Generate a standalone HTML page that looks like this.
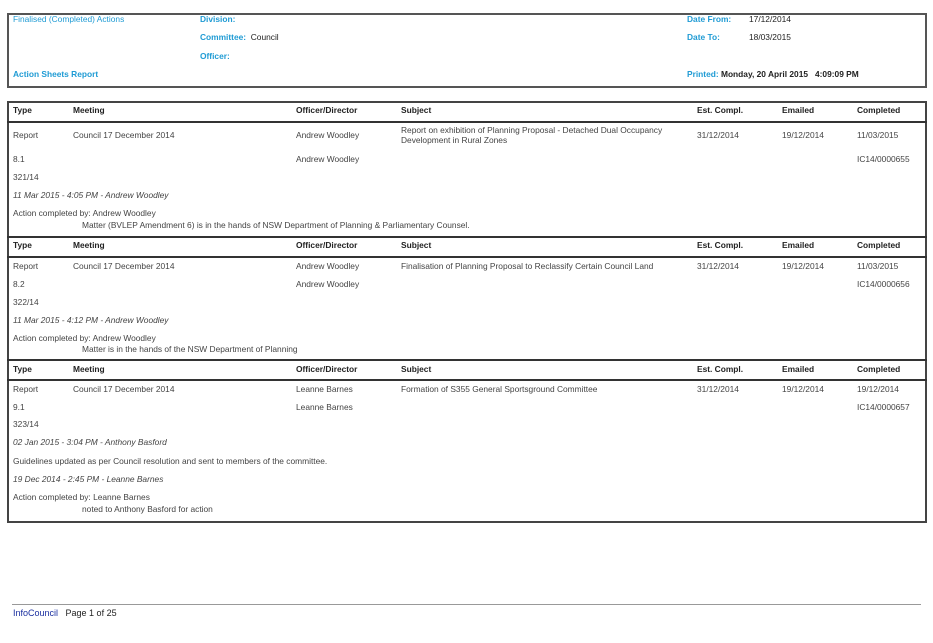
<!DOCTYPE html>
<html><head><meta charset="utf-8"><style>
body{margin:0;width:933px;height:643px;background:#fff;position:relative;overflow:hidden;font-family:"Liberation Sans",sans-serif;font-size:8.4px;color:#444;}
.t{position:absolute;white-space:nowrap;line-height:10px;}
.b{font-weight:bold;color:#222;}
.bl{color:#1f9bd4;font-weight:bold;}
.i{font-style:italic;}
.box{position:absolute;border:2px solid #444;box-sizing:border-box;}
.ln{position:absolute;left:7px;width:920px;height:2px;background:#333;}
</style></head><body>
<div class="box" style="left:7px;top:13px;width:920px;height:75px;border-color:#555"></div>
<div class="t" style="left:13px;top:14px;color:#1f9bd4">Finalised (Completed) Actions</div>
<div class="t bl" style="left:200px;top:14px">Division:</div>
<div class="t bl" style="left:200px;top:32px">Committee:&nbsp;&nbsp;<span style="color:#222;font-weight:normal">Council</span></div>
<div class="t bl" style="left:200px;top:51px">Officer:</div>
<div class="t bl" style="left:13px;top:69px">Action Sheets Report</div>
<div class="t bl" style="left:687px;top:14px">Date From:</div><div class="t" style="left:749px;top:14px;color:#222">17/12/2014</div>
<div class="t bl" style="left:687px;top:32px">Date To:</div><div class="t" style="left:749px;top:32px;color:#222">18/03/2015</div>
<div class="t bl" style="left:687px;top:69px">Printed: <span style="color:#222">Monday, 20 April 2015&nbsp;&nbsp; 4:09:09 PM</span></div>

<div class="box" style="left:7px;top:101px;width:920px;height:422px"></div>
<div class="ln" style="top:121px"></div>
<div class="ln" style="top:236px"></div>
<div class="ln" style="top:256px"></div>
<div class="ln" style="top:359px"></div>
<div class="ln" style="top:379px"></div>

<div class="t b" style="left:13px;top:105px">Type</div><div class="t b" style="left:73px;top:105px">Meeting</div><div class="t b" style="left:296px;top:105px">Officer/Director</div><div class="t b" style="left:401px;top:105px">Subject</div><div class="t b" style="left:697px;top:105px">Est. Compl.</div><div class="t b" style="left:782px;top:105px">Emailed</div><div class="t b" style="left:857px;top:105px">Completed</div>
<div class="t b" style="left:13px;top:240px">Type</div><div class="t b" style="left:73px;top:240px">Meeting</div><div class="t b" style="left:296px;top:240px">Officer/Director</div><div class="t b" style="left:401px;top:240px">Subject</div><div class="t b" style="left:697px;top:240px">Est. Compl.</div><div class="t b" style="left:782px;top:240px">Emailed</div><div class="t b" style="left:857px;top:240px">Completed</div>
<div class="t b" style="left:13px;top:364px">Type</div><div class="t b" style="left:73px;top:364px">Meeting</div><div class="t b" style="left:296px;top:364px">Officer/Director</div><div class="t b" style="left:401px;top:364px">Subject</div><div class="t b" style="left:697px;top:364px">Est. Compl.</div><div class="t b" style="left:782px;top:364px">Emailed</div><div class="t b" style="left:857px;top:364px">Completed</div>

<div class="t" style="left:13px;top:130px">Report</div><div class="t" style="left:73px;top:130px">Council 17 December 2014</div><div class="t" style="left:296px;top:130px">Andrew Woodley</div>
<div class="t" style="left:401px;top:125px">Report on exhibition of Planning Proposal - Detached Dual Occupancy<br>Development in Rural Zones</div>
<div class="t" style="left:697px;top:130px">31/12/2014</div><div class="t" style="left:782px;top:130px">19/12/2014</div><div class="t" style="left:857px;top:130px">11/03/2015</div>
<div class="t" style="left:13px;top:154px">8.1</div><div class="t" style="left:296px;top:154px">Andrew Woodley</div><div class="t" style="left:857px;top:154px">IC14/0000655</div>
<div class="t" style="left:13px;top:172px">321/14</div>
<div class="t i" style="left:13px;top:190px">11 Mar 2015 - 4:05 PM - Andrew Woodley</div>
<div class="t" style="left:13px;top:208px">Action completed by: Andrew Woodley</div>
<div class="t" style="left:82px;top:220px">Matter (BVLEP Amendment 6) is in the hands of NSW Department of Planning &amp; Parliamentary Counsel.</div>

<div class="t" style="left:13px;top:261px">Report</div><div class="t" style="left:73px;top:261px">Council 17 December 2014</div><div class="t" style="left:296px;top:261px">Andrew Woodley</div>
<div class="t" style="left:401px;top:261px">Finalisation of Planning Proposal to Reclassify Certain Council Land</div>
<div class="t" style="left:697px;top:261px">31/12/2014</div><div class="t" style="left:782px;top:261px">19/12/2014</div><div class="t" style="left:857px;top:261px">11/03/2015</div>
<div class="t" style="left:13px;top:279px">8.2</div><div class="t" style="left:296px;top:279px">Andrew Woodley</div><div class="t" style="left:857px;top:279px">IC14/0000656</div>
<div class="t" style="left:13px;top:297px">322/14</div>
<div class="t i" style="left:13px;top:315px">11 Mar 2015 - 4:12 PM - Andrew Woodley</div>
<div class="t" style="left:13px;top:333px">Action completed by: Andrew Woodley</div>
<div class="t" style="left:82px;top:344px">Matter is in the hands of the NSW Department of Planning</div>

<div class="t" style="left:13px;top:384px">Report</div><div class="t" style="left:73px;top:384px">Council 17 December 2014</div><div class="t" style="left:296px;top:384px">Leanne Barnes</div>
<div class="t" style="left:401px;top:384px">Formation of S355 General Sportsground Committee</div>
<div class="t" style="left:697px;top:384px">31/12/2014</div><div class="t" style="left:782px;top:384px">19/12/2014</div><div class="t" style="left:857px;top:384px">19/12/2014</div>
<div class="t" style="left:13px;top:402px">9.1</div><div class="t" style="left:296px;top:402px">Leanne Barnes</div><div class="t" style="left:857px;top:402px">IC14/0000657</div>
<div class="t" style="left:13px;top:419px">323/14</div>
<div class="t i" style="left:13px;top:437px">02 Jan 2015 - 3:04 PM - Anthony Basford</div>
<div class="t" style="left:13px;top:456px">Guidelines updated as per Council resolution and sent to members of the committee.</div>
<div class="t i" style="left:13px;top:474px">19 Dec 2014 - 2:45 PM - Leanne Barnes</div>
<div class="t" style="left:13px;top:492px">Action completed by: Leanne Barnes</div>
<div class="t" style="left:82px;top:504px">noted to Anthony Basford for action</div>

<div style="position:absolute;left:12px;top:604px;width:909px;height:1px;background:#999"></div>
<div class="t" style="left:13px;top:608px;font-size:9px;color:#222"><span style="color:#1a2fa0">InfoCouncil</span>&nbsp;&nbsp; Page 1 of 25</div>
</body></html>
